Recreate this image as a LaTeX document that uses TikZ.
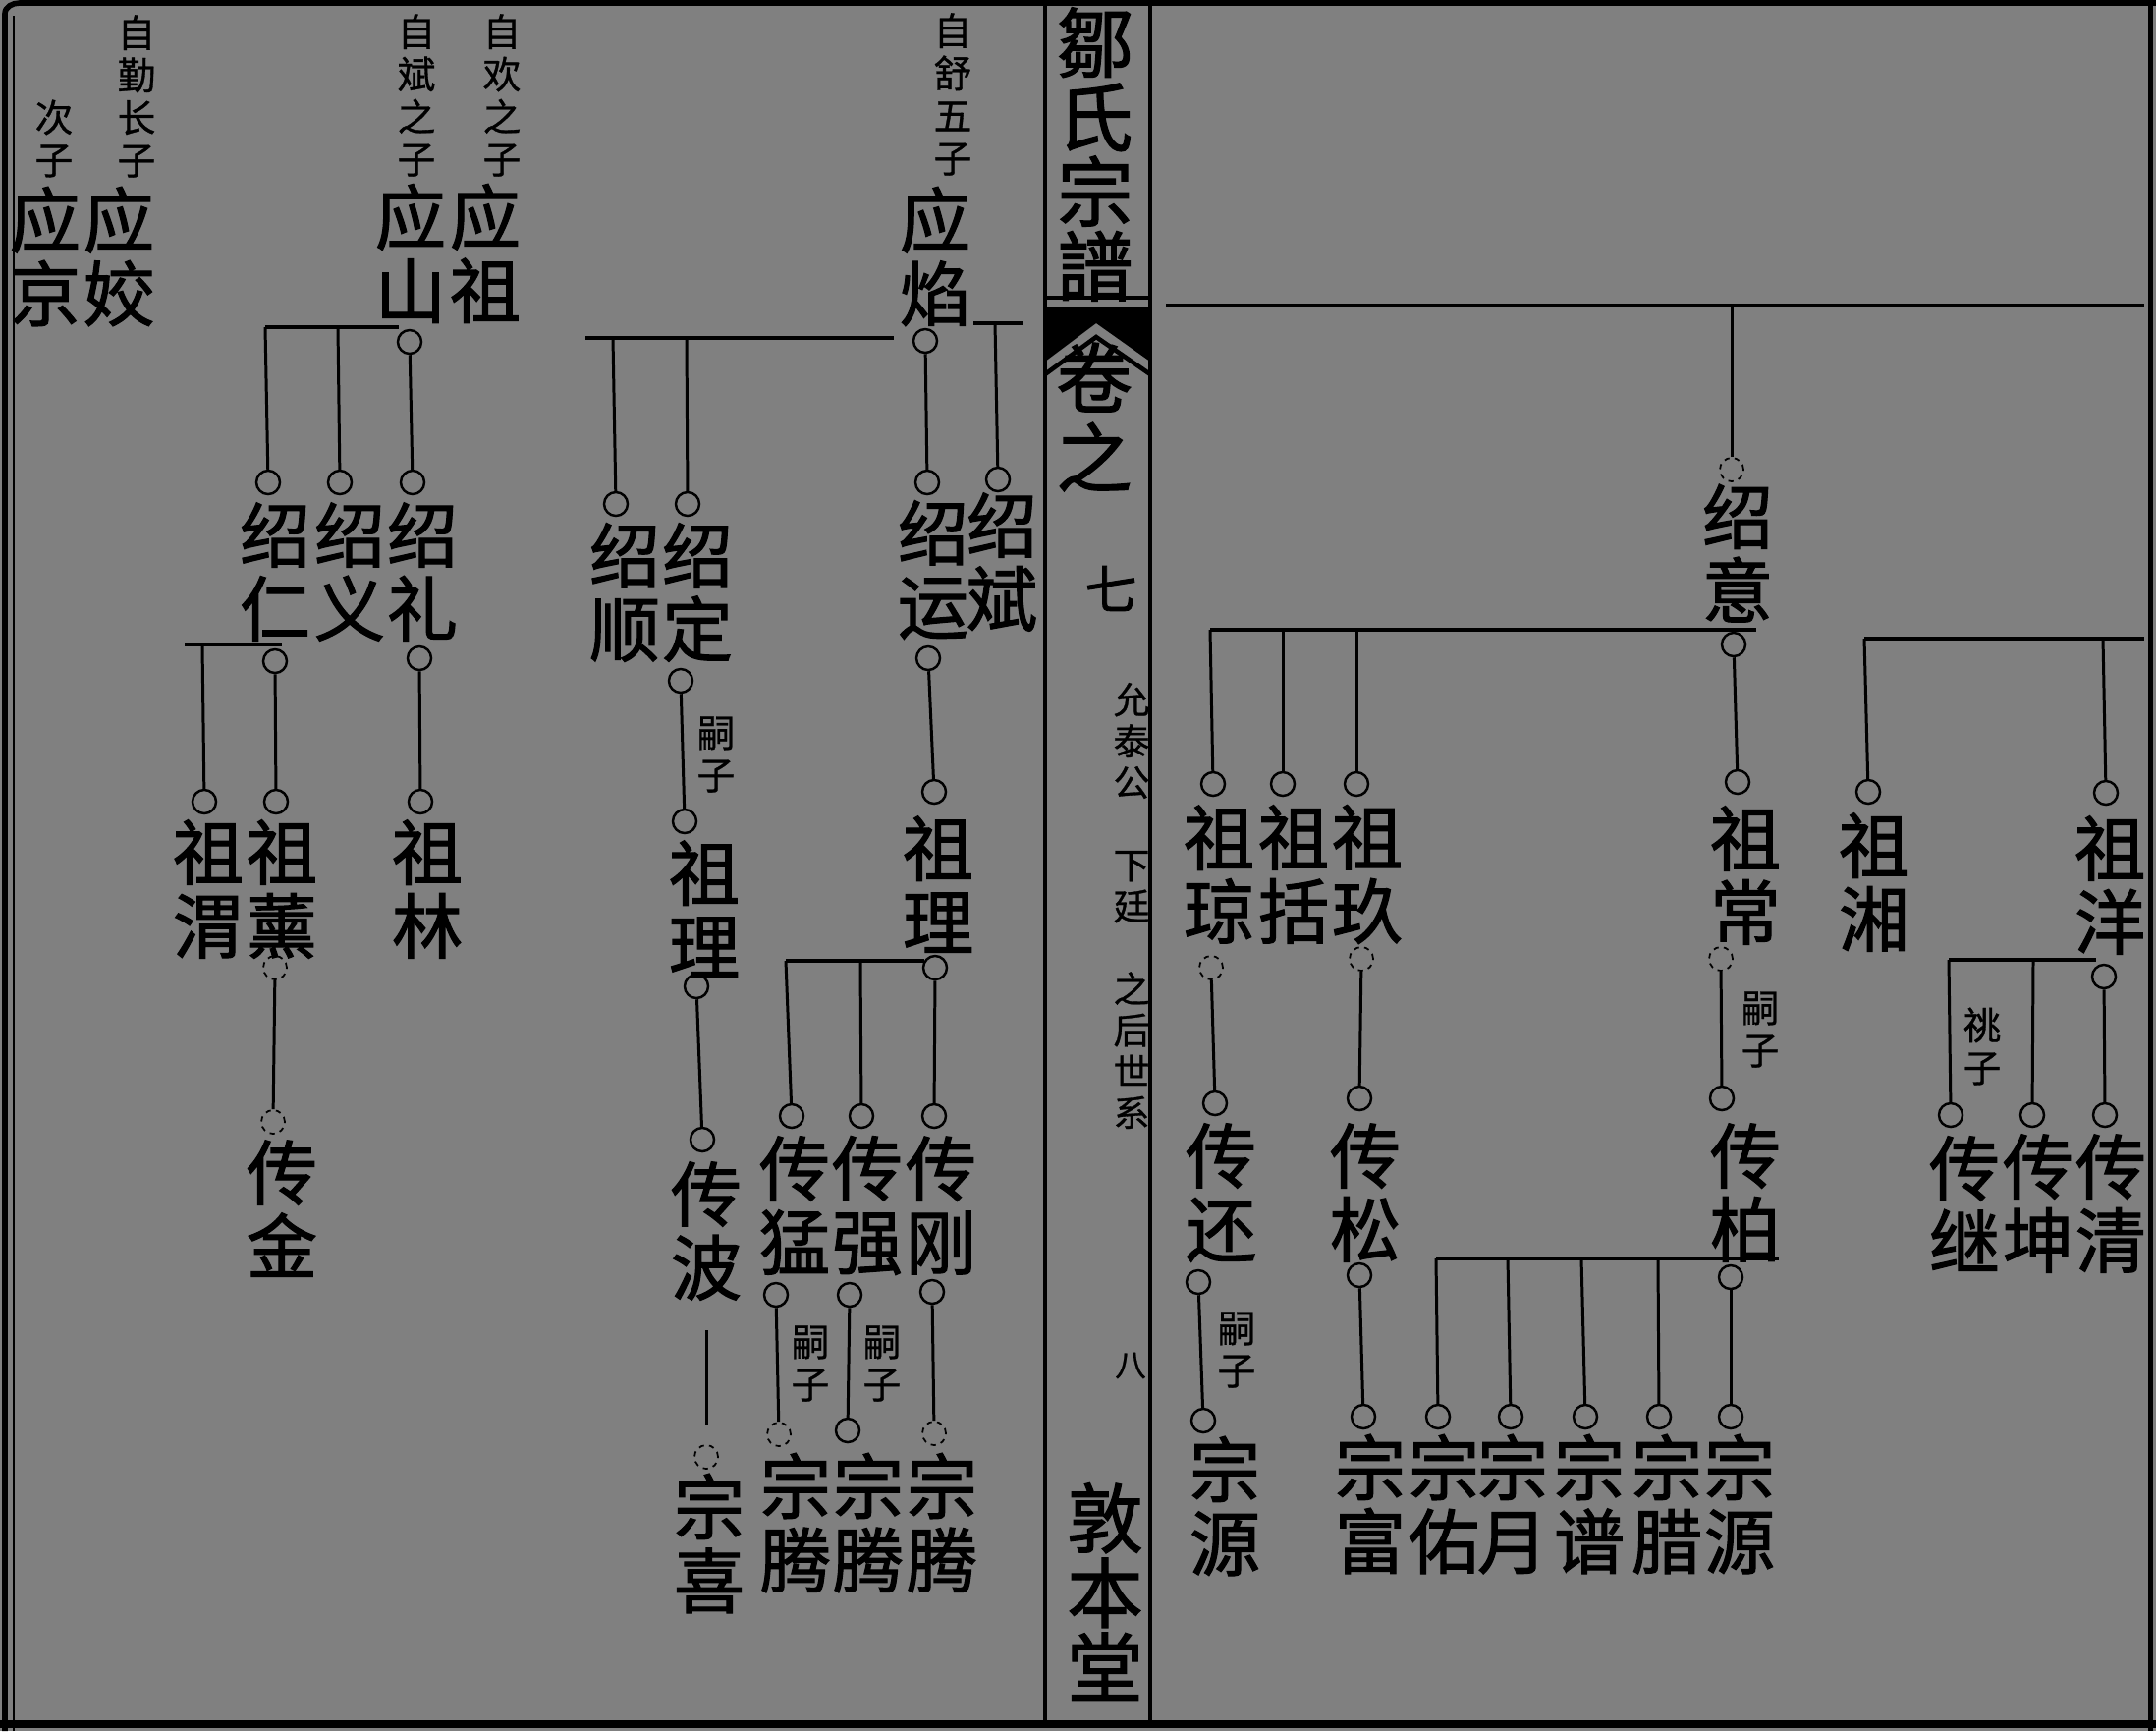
\documentclass[tikz,border=0pt]{standalone}
\usepackage{fontspec}
\newfontfamily\cjk{Noto Sans CJK SC}[FakeBold=0.8]
\newfontfamily\cjkbf{Noto Sans CJK SC}[FakeBold=1.6]
\definecolor{paper}{gray}{0.5}
\tikzset{
  namebox/.style={inner sep=0pt, align=center, font=\cjkbf\fontsize{20.5}{21.3}\selectfont},
  titlebox/.style={inner sep=0pt, align=center, font=\cjkbf\fontsize{22}{21.6}\selectfont},
  notebox/.style={inner sep=0pt, align=center, font=\cjk\fontsize{11}{12.3}\selectfont},
  bandnote/.style={inner sep=0pt, align=center, font=\cjk\fontsize{10.5}{11.95}\selectfont},
  ringmark/.style={circle, draw, line width=0.7pt, minimum size=0.24cm, inner sep=0pt},
  faintmark/.style={ringmark, line width=0.5pt, dash pattern=on 1.5pt off 1.5pt},
  linkline/.style={line width=0.85pt},
  barline/.style={line width=1.1pt},
}
\begin{document}
\begin{tikzpicture}[x=0.01cm,y=-0.01cm]
  \fill[paper] (0,0) rectangle (2195,1762);
  \useasboundingbox (0,0) rectangle (2195,1762);
  % frame
  \draw[line width=1.6pt] (5,1762) -- (5,14) to[out=90,in=180] (20,3) -- (2195,3);
  \draw[line width=0.7pt] (14,1762) -- (14,16);
  \draw[line width=2.2pt] (0,1755) -- (2195,1755);
  \draw[line width=1.4pt] (2189,0) -- (2189,1762);
  \draw[line width=1.2pt] (1064,3) -- (1064,1755);
  \draw[line width=1.2pt] (1171,3) -- (1171,1755);

  % middle band
  \node[titlebox] (ttl) at (1115,157) {鄒\\氏\\宗\\譜};
  \draw[line width=1.2pt] (1064,303) -- (1171,303);
  \fill (1064,313) -- (1171,313) -- (1171,368) -- (1116,329) -- (1064,368) -- cycle;
  \draw[line width=1.3pt] (1064,381) -- (1116,343) -- (1171,381);
  \node[titlebox] (juan) at (1114,384) {卷};
  \node[titlebox] (zhi) at (1114,465) {之};
  \node[inner sep=0pt, font=\cjkbf\fontsize{15}{15}\selectfont] (qi) at (1131,599) {七};
  \node[bandnote] (lineage) at (1152,922) {允\\泰\\公\\\mbox{}\\下\\廷\\\mbox{}\\之\\后\\世\\系};
  \node[inner sep=0pt, font=\cjk\fontsize{9}{9}\selectfont] (ba) at (1151,1390) {八};
  \node[titlebox] (hall) at (1125,1620) {敦\\本\\堂};

  % left page, generation ying
  \node[notebox] (nci) at (55,141) {次\\子};
  \node[notebox] (nqin) at (139,98) {自\\勤\\长\\子};
  \node[notebox] (nbin) at (424,97) {自\\斌\\之\\子};
  \node[notebox] (nhuan) at (511,97) {自\\欢\\之\\子};
  \node[notebox] (nshu) at (970,96) {自\\舒\\五\\子};
  \node[namebox] (yjing) at (46,261) {应\\京};
  \node[namebox] (yjiao) at (121,261) {应\\姣};
  \node[namebox] (yshan) at (418,258) {应\\山};
  \node[namebox] (yzu) at (494,258) {应\\祖};
  \node[namebox] (yyan) at (952,261) {应\\焰};

  % ying shan
  \node[ringmark] (oshan) at (417,348) {};
  \coordinate (bshanL) at (270,333);
  \coordinate (bshanM) at (344,333);
  \coordinate (bshanR) at (406,333);
  \draw[barline] (bshanL) -- (bshanR);
  \node[ringmark] (oren) at (273,491) {};
  \node[ringmark] (oyi) at (346,491) {};
  \node[ringmark] (oli) at (420,491) {};
  \draw[linkline] (bshanL) -- (oren);
  \draw[linkline] (bshanM) -- (oyi);
  \draw[linkline] (oshan) -- (oli);
  \node[namebox] (sren) at (280,582) {绍\\仁};
  \node[namebox] (syi) at (356,582) {绍\\义};
  \node[namebox] (sli) at (430,582) {绍\\礼};

  \coordinate (brenL) at (188,656);
  \coordinate (brenM) at (206,656);
  \coordinate (brenR) at (287,656);
  \draw[barline] (brenL) -- (brenR);
  \node[ringmark] (oren2) at (280,673) {};
  \node[ringmark] (oli2) at (427,670) {};
  \node[ringmark] (owei) at (208,816) {};
  \node[ringmark] (oxun) at (281,816) {};
  \node[ringmark] (olin) at (428,816) {};
  \draw[linkline] (brenM) -- (owei);
  \draw[linkline] (oren2) -- (oxun);
  \draw[linkline] (oli2) -- (olin);
  \node[namebox] (zwei) at (212,905) {祖\\渭};
  \node[namebox] (zxun) at (287,905) {祖\\薰};
  \node[namebox] (zlin) at (435,905) {祖\\林};
  \node[faintmark] (oxun2) at (280,985) {};
  \node[faintmark] (ojin) at (278,1142) {};
  \draw[linkline] (oxun2) -- (ojin);
  \node[namebox] (cjin) at (287,1230) {传\\金};

  % ying yan
  \node[ringmark] (oyan) at (942,347) {};
  \coordinate (byanL) at (596,344);
  \coordinate (byanA) at (624,344);
  \coordinate (byanB) at (699,344);
  \coordinate (byanR) at (910,344);
  \draw[barline] (byanL) -- (byanR);
  \coordinate (bbinL) at (991,329);
  \coordinate (bbinM) at (1013,329);
  \coordinate (bbinR) at (1041,329);
  \draw[barline] (bbinL) -- (bbinR);
  \node[ringmark] (oshun) at (627,513) {};
  \node[ringmark] (oding) at (700,513) {};
  \node[ringmark] (oyun) at (944,491) {};
  \node[ringmark] (obin) at (1016,488) {};
  \draw[linkline] (byanA) -- (oshun);
  \draw[linkline] (byanB) -- (oding);
  \draw[linkline] (oyan) -- (oyun);
  \draw[linkline] (bbinM) -- (obin);
  \node[namebox] (sshun) at (636,603) {绍\\顺};
  \node[namebox] (sding) at (710,603) {绍\\定};
  \node[namebox] (syun) at (950,580) {绍\\运};
  \node[namebox] (sbin) at (1020,572) {绍\\斌};

  % shao ding
  \node[ringmark] (oding2) at (693,693) {};
  \node[ringmark] (oli3) at (697,836) {};
  \draw[linkline] (oding2) -- (oli3);
  \node[notebox] (nsi1) at (729,768) {嗣\\子};
  \node[namebox] (zli1) at (717,925) {祖\\理};
  \node[ringmark] (oli4) at (709,1004) {};
  \node[ringmark] (obo) at (715,1160) {};
  \draw[linkline] (oli4) -- (obo);
  \node[namebox] (cbo) at (719,1253) {传\\波};
  \node[faintmark] (oxi) at (719,1483) {};
  \draw[linkline, shorten <=0.3cm, shorten >=0.2cm] (cbo) -- (oxi);
  \node[namebox] (zxi) at (722,1571) {宗\\喜};

  % shao yun
  \node[ringmark] (oyun2) at (945,670) {};
  \node[ringmark] (oli5) at (951,806) {};
  \draw[linkline] (oyun2) -- (oli5);
  \node[namebox] (zli2) at (955,900) {祖\\理};
  \coordinate (bliL) at (800,978);
  \coordinate (bliB) at (876,978);
  \coordinate (bliR) at (941,978);
  \draw[barline] (bliL) -- (bliR);
  \node[ringmark] (oli6) at (952,985) {};
  \node[ringmark] (omeng) at (806,1136) {};
  \node[ringmark] (oqiang) at (877,1136) {};
  \node[ringmark] (ogang) at (951,1136) {};
  \draw[linkline] (bliL) -- (omeng);
  \draw[linkline] (bliB) -- (oqiang);
  \draw[linkline] (oli6) -- (ogang);
  \node[namebox] (cmeng) at (809,1227) {传\\猛};
  \node[namebox] (cqiang) at (883,1227) {传\\强};
  \node[namebox] (cgang) at (958,1227) {传\\刚};
  \node[ringmark] (omeng2) at (790,1318) {};
  \node[ringmark] (oqiang2) at (865,1318) {};
  \node[ringmark] (ogang2) at (949,1315) {};
  \node[faintmark] (oteng1) at (793,1460) {};
  \node[ringmark] (oteng2) at (863,1456) {};
  \node[faintmark] (oteng3) at (951,1459) {};
  \draw[linkline] (omeng2) -- (oteng1);
  \draw[linkline] (oqiang2) -- (oteng2);
  \draw[linkline] (ogang2) -- (oteng3);
  \node[notebox] (nsi2) at (825,1388) {嗣\\子};
  \node[notebox] (nsi3) at (898,1388) {嗣\\子};
  \node[namebox] (zteng1) at (810,1550) {宗\\腾};
  \node[namebox] (zteng2) at (884,1550) {宗\\腾};
  \node[namebox] (zteng3) at (959,1550) {宗\\腾};

  % right page
  \coordinate (btopL) at (1187,311);
  \coordinate (btopM) at (1763,311);
  \coordinate (btopR) at (2183,311);
  \draw[barline] (btopL) -- (btopR);
  \node[faintmark] (oyi0) at (1763,478) {};
  \draw[linkline] (btopM) -- (oyi0);
  \node[namebox] (syi2) at (1769,563) {绍\\意};
  \coordinate (byiL) at (1232,641);
  \coordinate (byiA) at (1306,641);
  \coordinate (byiB) at (1381,641);
  \coordinate (byiR) at (1788,641);
  \draw[barline] (byiL) -- (byiR);
  \node[ringmark] (oyi2) at (1765,656) {};
  \node[ringmark] (oqiong) at (1235,798) {};
  \node[ringmark] (okuo) at (1306,798) {};
  \node[ringmark] (ojiu) at (1381,798) {};
  \node[ringmark] (ochang) at (1769,796) {};
  \draw[linkline] (byiL) -- (oqiong);
  \draw[linkline] (byiA) -- (okuo);
  \draw[linkline] (byiB) -- (ojiu);
  \draw[linkline] (oyi2) -- (ochang);
  \node[namebox] (zqiong) at (1241,890) {祖\\琼};
  \node[namebox] (zkuo) at (1317,890) {祖\\括};
  \node[namebox] (zjiu) at (1392,890) {祖\\玖};
  \node[namebox] (zchang) at (1777,891) {祖\\常};

  \coordinate (bxiangL) at (1898,650);
  \coordinate (bxiangM) at (2141,650);
  \coordinate (bxiangR) at (2183,650);
  \draw[barline] (bxiangL) -- (bxiangR);
  \node[ringmark] (oxiang) at (1902,806) {};
  \node[ringmark] (oyang) at (2144,807) {};
  \draw[linkline] (bxiangL) -- (oxiang);
  \draw[linkline] (bxiangM) -- (oyang);
  \node[namebox] (zxiang) at (1908,898) {祖\\湘};
  \node[namebox] (zyang) at (2148,901) {祖\\洋};

  \node[faintmark] (oqiong2) at (1233,985) {};
  \node[faintmark] (ojiu2) at (1386,976) {};
  \node[faintmark] (ochang2) at (1752,976) {};
  \node[ringmark] (ohuan) at (1237,1123) {};
  \node[ringmark] (osong) at (1384,1118) {};
  \node[ringmark] (obai) at (1753,1118) {};
  \draw[linkline] (oqiong2) -- (ohuan);
  \draw[linkline] (ojiu2) -- (osong);
  \draw[linkline] (ochang2) -- (obai);
  \node[notebox] (nsi4) at (1792,1048) {嗣\\子};
  \node[namebox] (chuan) at (1243,1214) {传\\还};
  \node[namebox] (csong) at (1390,1214) {传\\松};
  \node[namebox] (cbai) at (1777,1214) {传\\柏};

  \node[ringmark] (ohuan2) at (1220,1305) {};
  \node[ringmark] (oyuan1) at (1225,1446) {};
  \draw[linkline] (ohuan2) -- (oyuan1);
  \node[notebox] (nsi5) at (1259,1374) {嗣\\子};
  \node[namebox] (zyuan1) at (1247,1533) {宗\\源};
  \node[ringmark] (osong2) at (1384,1298) {};
  \node[ringmark] (ofu) at (1388,1442) {};
  \draw[linkline] (osong2) -- (ofu);

  \coordinate (bbaiL) at (1462,1281);
  \coordinate (bbaiA) at (1535,1281);
  \coordinate (bbaiB) at (1610,1281);
  \coordinate (bbaiC) at (1688,1281);
  \coordinate (bbaiR) at (1811,1281);
  \draw[barline] (bbaiL) -- (bbaiR);
  \node[ringmark] (obai2) at (1762,1300) {};
  \node[ringmark] (oyou) at (1464,1442) {};
  \node[ringmark] (oyue) at (1538,1442) {};
  \node[ringmark] (opu) at (1614,1442) {};
  \node[ringmark] (ola) at (1689,1442) {};
  \node[ringmark] (oyuan2) at (1762,1442) {};
  \draw[linkline] (bbaiL) -- (oyou);
  \draw[linkline] (bbaiA) -- (oyue);
  \draw[linkline] (bbaiB) -- (opu);
  \draw[linkline] (bbaiC) -- (ola);
  \draw[linkline] (obai2) -- (oyuan2);
  \node[namebox] (zfu) at (1395,1531) {宗\\富};
  \node[namebox] (zyou) at (1470,1531) {宗\\佑};
  \node[namebox] (zyue) at (1540,1531) {宗\\月};
  \node[namebox] (zpu) at (1618,1531) {宗\\谱};
  \node[namebox] (zla) at (1697,1531) {宗\\腊};
  \node[namebox] (zyuan2) at (1771,1531) {宗\\源};

  \coordinate (byangL) at (1984,977);
  \coordinate (byangM) at (2070,977);
  \coordinate (byangR) at (2134,977);
  \draw[barline] (byangL) -- (byangR);
  \node[ringmark] (oyang2) at (2142,994) {};
  \node[ringmark] (oji) at (1986,1135) {};
  \node[ringmark] (okun) at (2069,1135) {};
  \node[ringmark] (oqing) at (2143,1135) {};
  \draw[linkline] (byangL) -- (oji);
  \draw[linkline] (byangM) -- (okun);
  \draw[linkline] (oyang2) -- (oqing);
  \node[notebox] (ntiao) at (2018,1065) {祧\\子};
  \node[namebox] (cji) at (2000,1225) {传\\继};
  \node[namebox] (ckun) at (2075,1225) {传\\坤};
  \node[namebox] (cqing) at (2149,1225) {传\\清};
\end{tikzpicture}
\end{document}
